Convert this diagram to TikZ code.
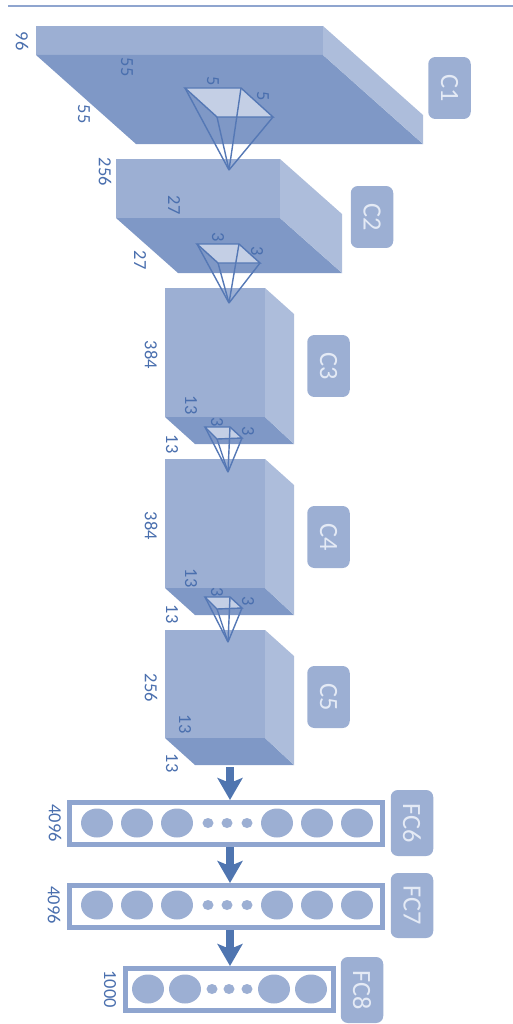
\documentclass[tikz,border=0pt]{standalone}
\usepackage{fontspec}
\setmainfont{Carlito}
\definecolor{cnnfront}{RGB}{156,175,211}
\definecolor{cnnlow}{RGB}{127,152,198}
\definecolor{cnnside}{RGB}{173,189,219}
\definecolor{cnnedge}{RGB}{143,165,207}
\definecolor{cnnline}{RGB}{85,120,181}
\definecolor{cnnlight}{RGB}{196,207,229}
\definecolor{cnnarrow}{RGB}{79,117,176}
\definecolor{cnntext}{RGB}{74,111,174}
\definecolor{cnntag}{RGB}{228,234,245}
\usetikzlibrary{arrows.meta,positioning,shapes.geometric}
\tikzset{
  dimlabel/.style={rotate=-90, inner sep=0pt, text=cnntext, font=\fontsize{10.5}{10.5}\selectfont},
  tagbox/.style={rotate=-90, fill=cnnfront, rounded corners=4pt, inner sep=0pt, minimum width=1.24cm, minimum height=0.85cm, text=cnntag, font=\fontsize{15}{15}\selectfont},
  fcbox/.style={draw=cnnedge, line width=0.1cm, fill=white, minimum height=0.84cm},
  neuron/.style={ellipse, fill=cnnfront, inner sep=0pt, minimum width=0.64cm, minimum height=0.58cm},
  neurondot/.style={ellipse, fill=cnnfront, inner sep=0pt, minimum width=0.22cm, minimum height=0.2cm},
  filterline/.style={draw=cnnline, line width=0.8pt},
  flowarrow/.style={-{Stealth[length=0.44cm,width=0.5cm,inset=0.1cm]}, line width=0.17cm, cnnarrow}
}
\begin{document}
\begin{tikzpicture}[x=0.02cm,y=-0.02cm]
  \useasboundingbox (0,0) rectangle (513,1024);
  \draw[cnnedge, line width=0.7pt] (8,6) -- (513,6);

  % C1
  \fill[cnnfront] (36,26) -- (323,26) -- (323,55) -- (36,55) -- cycle;
  \fill[cnnlow] (36,55) -- (323,55) -- (423,144) -- (136,144) -- cycle;
  \fill[cnnside] (323,26) -- (423,115) -- (423,144) -- (323,55) -- cycle;
  \node[tagbox] (tagc1) at (449.5,88) {C1};

  % C2
  \fill[cnnfront] (116,159) -- (280,159) -- (280,218) -- (116,218) -- cycle;
  \fill[cnnlow] (116,218) -- (280,218) -- (342,273) -- (178,273) -- cycle;
  \fill[cnnside] (280,159) -- (342,214) -- (342,273) -- (280,218) -- cycle;
  \node[tagbox] (tagc2) at (372,217) {C2};

  % C3
  \fill[cnnfront] (165,288) -- (265,288) -- (265,417) -- (165,417) -- cycle;
  \fill[cnnlow] (165,417) -- (265,417) -- (294,444) -- (195,444) -- cycle;
  \fill[cnnside] (265,288) -- (294,314) -- (294,444) -- (265,417) -- cycle;
  \node[tagbox] (tagc3) at (328.5,366) {C3};

  % C4
  \fill[cnnfront] (165,459) -- (265,459) -- (265,588) -- (165,588) -- cycle;
  \fill[cnnlow] (165,588) -- (265,588) -- (294,615) -- (195,615) -- cycle;
  \fill[cnnside] (265,459) -- (294,485) -- (294,615) -- (265,588) -- cycle;
  \node[tagbox] (tagc4) at (328.5,537) {C4};

  % C5
  \fill[cnnfront] (165,630) -- (265,630) -- (265,738) -- (165,738) -- cycle;
  \fill[cnnlow] (165,738) -- (265,738) -- (294,765) -- (195,765) -- cycle;
  \fill[cnnside] (265,630) -- (294,656) -- (294,765) -- (265,738) -- cycle;
  \node[tagbox] (tagc5) at (328.5,697) {C5};

  % Filters
  \foreach \name/\ax/\ay/\bx/\by/\cx/\cy/\dx/\dy/\tipx/\tipy in {
    fa/185/88/241/88/273/117/217/117/229/170,
    fb/197/244/239/244/260/263/218/263/229/303,
    fc/205/427/230/427/242/438/217/439/228/472,
    fd/205/597/230/597/242/608/217/609/228/642}{
    \coordinate (\name a) at (\ax,\ay);
    \coordinate (\name b) at (\bx,\by);
    \coordinate (\name c) at (\cx,\cy);
    \coordinate (\name d) at (\dx,\dy);
    \coordinate (\name tip) at (\tipx,\tipy);
    \filldraw[filterline, fill=cnnlight] (\name a) -- (\name b) -- (\name c) -- (\name d) -- cycle;
    \draw[filterline] (\name a) -- (\name tip);
    \draw[filterline] (\name b) -- (\name tip);
    \draw[filterline] (\name c) -- (\name tip);
    \draw[filterline] (\name d) -- (\name tip);
  }

  % Sizes
  \foreach \name/\px/\py/\val in {
    la/22/41/96, lb/127/67/55, lc/84/114/55, ld/213/81/5, le/263/96/5,
    lf/105/172/256, lg/174/205/27, lh/140/260/27, li/218/237/3, lj/257/251/3,
    lk/151/355/384, ll/191/405/13, lm/172/444/13, ln/217/422/3, lo/248/431/3,
    lp/151/526/384, lq/191/578/13, lr/172/614/13, ls/217/592/3, lt/248/601/3,
    lu/151/688/256, lv/185/724/13, lw/172/763/13,
    lx/55/823/4096, ly/54/905/4096, lz/110/989/1000}{
    \node[dimlabel] (\name) at (\px,\py) {\val};
  }

  % FC layers
  \node[fcbox, minimum width=6.26cm] (fc6) at (226,823.5) {};
  \node[fcbox, minimum width=6.26cm] (fc7) at (226,906.5) {};
  \node[fcbox, minimum width=4.16cm] (fc8) at (229.5,989.5) {};
  \node[tagbox, minimum width=1.32cm] (tagfc6) at (412,823) {FC6};
  \node[tagbox, minimum width=1.3cm] (tagfc7) at (412,905.5) {FC7};
  \node[tagbox, minimum width=1.32cm] (tagfc8) at (362,990) {FC8};

  \foreach \i/\px in {1/97,2/137,3/177,4/277,5/317,6/357}{
    \node[neuron] (na\i) at (\px,823) {};
    \node[neuron] (nb\i) at (\px,905) {};
  }
  \foreach \i/\px in {1/208,2/227,3/247}{
    \node[neurondot] (da\i) at (\px,823) {};
    \node[neurondot] (db\i) at (\px,905) {};
  }
  \foreach \i/\px in {1/148,2/185,3/274,4/311}{
    \node[neuron] (nc\i) at (\px,989) {};
  }
  \foreach \i/\px in {1/212,2/229,3/247}{
    \node[neurondot] (dc\i) at (\px,989) {};
  }

  % Arrows
  \coordinate (c5low) at (230,767);
  \draw[flowarrow] (c5low) -- (fc6.north -| c5low);
  \draw[flowarrow] (fc6.south -| c5low) -- (fc7.north -| c5low);
  \draw[flowarrow] (fc7.south -| c5low) -- (fc8.north -| c5low);
\end{tikzpicture}
\end{document}
